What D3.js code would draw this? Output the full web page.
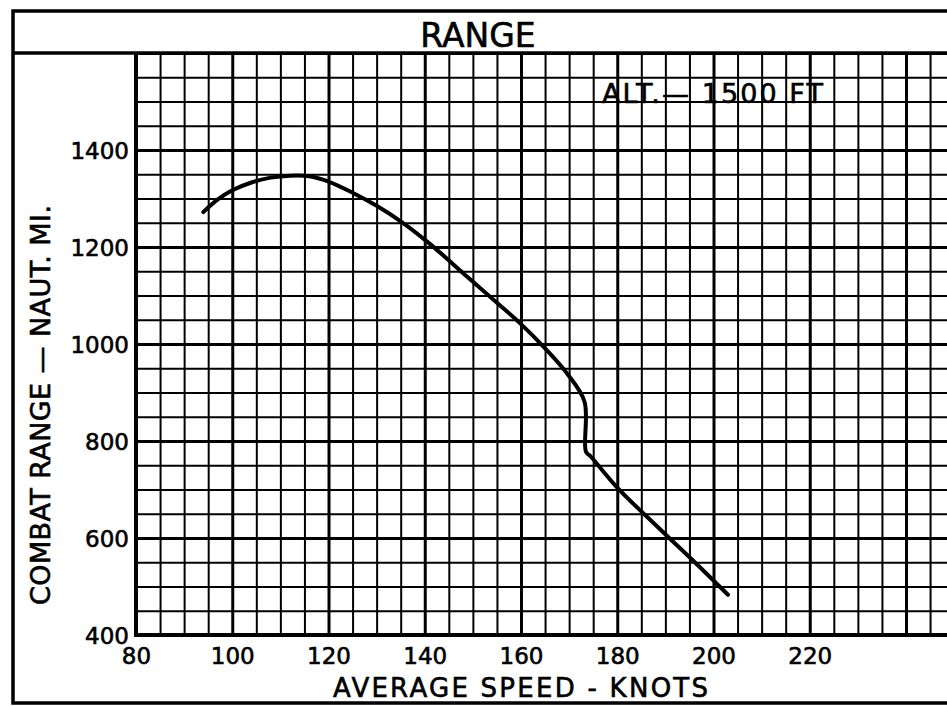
<!DOCTYPE html>
<html>
<head>
<meta charset="utf-8">
<script src="https://cdn.jsdelivr.net/npm/d3@7"></script>
<style>
  html, body { margin: 0; padding: 0; background: #fff; }
  svg { display: block; }
  text { font-family: "DejaVu Sans", sans-serif; fill: #000; stroke: #000; stroke-width: 0.6px; }
</style>
</head>
<body>
<div id="chart"></div>
<script>
// range vs average speed, ALT 1500 FT
const speedKnots = [94, 97, 100, 104, 108, 112, 116, 120, 125, 130, 135, 141, 149, 155, 160, 165, 169.5, 173.2, 173.5, 174.5, 180, 189, 196, 203];
const rangeNm    = [1272, 1298, 1317, 1333, 1343, 1347, 1346, 1335, 1312, 1285, 1253, 1207, 1137, 1085, 1041, 991, 940, 881, 778, 768, 704, 617, 551, 483];

const xTickLabels = [80, 100, 120, 140, 160, 180, 200, 220];
const yTickLabels = [400, 600, 800, 1000, 1200, 1400];

const titleText = "RANGE";
const altText = "ALT.\u2014 1500 FT";
const xTitle = "AVERAGE SPEED - KNOTS";
const yTitle = "COMBAT RANGE \u2014 NAUT. MI.";

(function(){
  const W = 947, H = 706;
  const plotLeft = 136, plotTop = 53, plotBottom = 635;

  const svg = d3.select("#chart").append("svg").attr("width", W).attr("height", H);

  // px per knot ~4.81
  const x = d3.scaleLinear().domain([80, 260]).range([plotLeft, plotLeft + 180 * 4.8125]);
  const y = d3.scaleLinear().domain([400, 1600]).range([plotBottom, plotTop]);

  // outer frame (right edge runs off the page)
  svg.append("rect").attr("x", 13).attr("y", 11).attr("width", 1000).attr("height", 692)
    .attr("fill", "none").attr("stroke", "#000").attr("stroke-width", 3.5);

  // grid via axes
  const vGrid = svg.append("g").attr("transform", `translate(0,${plotBottom})`)
    .call(d3.axisBottom(x).tickValues(d3.range(80, 261, 5)).tickSize(-(plotBottom - plotTop)).tickFormat(""));
  vGrid.select(".domain").remove();
  vGrid.selectAll(".tick line").attr("stroke", "#000")
    .attr("stroke-width", d => (d - 80) % 20 === 0 ? 3 : 2);

  const hGrid = svg.append("g").attr("transform", `translate(${plotLeft},0)`)
    .call(d3.axisRight(y).tickValues(d3.range(400, 1601, 50)).tickSize(1000).tickFormat(""));
  hGrid.select(".domain").remove();
  hGrid.selectAll(".tick line").attr("stroke", "#000")
    .attr("stroke-width", d => (d - 400) % 200 === 0 ? 3 : 2);

  // header line / plot top, left and bottom edges
  svg.append("line").attr("x1", 13).attr("x2", W + 20).attr("y1", plotTop).attr("y2", plotTop)
    .attr("stroke", "#000").attr("stroke-width", 3.5);
  svg.append("line").attr("x1", plotLeft).attr("x2", plotLeft).attr("y1", plotTop).attr("y2", plotBottom + 2)
    .attr("stroke", "#000").attr("stroke-width", 4);
  svg.append("line").attr("x1", plotLeft - 2).attr("x2", W + 20).attr("y1", plotBottom).attr("y2", plotBottom)
    .attr("stroke", "#000").attr("stroke-width", 4);

  // tick labels
  const xAx = svg.append("g").attr("transform", `translate(0,${plotBottom})`)
    .call(d3.axisBottom(x).tickValues(xTickLabels).tickSize(0).tickPadding(29).tickFormat(d3.format("d")));
  xAx.select(".domain").remove();
  xAx.selectAll("text").attr("font-size", 23).attr("font-family", "DejaVu Sans").attr("dy", 0);

  const yAx = svg.append("g").attr("transform", `translate(${plotLeft},0)`)
    .call(d3.axisLeft(y).tickValues(yTickLabels).tickSize(0).tickPadding(7).tickFormat(d3.format("d")));
  yAx.select(".domain").remove();
  yAx.selectAll("text").attr("font-size", 23).attr("font-family", "DejaVu Sans").attr("dy", "0.36em");

  // the curve
  const line = d3.line().x((d, i) => x(speedKnots[i])).y((d, i) => y(rangeNm[i])).curve(d3.curveCatmullRom.alpha(0.5));
  svg.append("path").datum(rangeNm).attr("d", line)
    .attr("fill", "none").attr("stroke", "#000").attr("stroke-width", 4).attr("stroke-linecap", "round");

  // texts
  svg.append("text").attr("x", 478).attr("y", 47).attr("text-anchor", "middle")
    .attr("font-size", 33).text(titleText);
  svg.append("text").attr("x", 602).attr("y", 103).attr("font-size", 27)
    .attr("textLength", 221).attr("lengthAdjust", "spacing").text(altText);
  svg.append("text").attr("x", 333).attr("y", 697).attr("font-size", 26)
    .attr("textLength", 375).attr("lengthAdjust", "spacing").text(xTitle);
  svg.append("text").attr("transform", "translate(50,605) rotate(-90)").attr("font-size", 27)
    .attr("textLength", 400).attr("lengthAdjust", "spacing").text(yTitle);
})();
</script>
</body>
</html>
